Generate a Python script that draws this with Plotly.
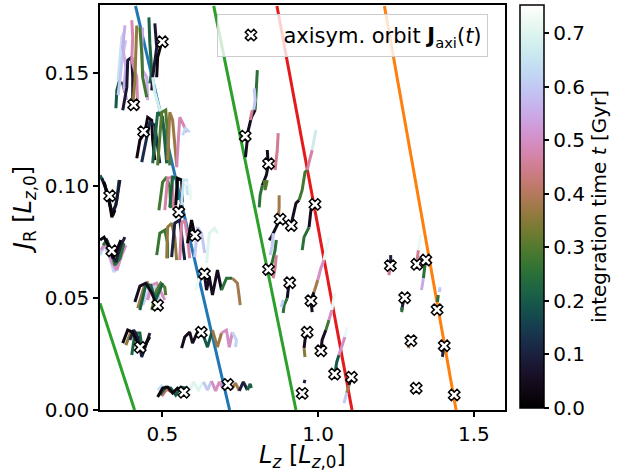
import numpy as np
import plotly.graph_objects as go

# ---------------- data ----------------
T_MAX = 0.753  # colour-bar upper limit [Gyr]

# axisymmetric orbit actions (markers)
marker_lz = [0.500, 0.408, 0.440, 0.331, 0.553, 0.605, 0.338, 0.635, 0.485, 0.625,
             0.429, 0.569, 0.710, 0.766, 0.841, 0.878, 0.914, 0.990, 0.841, 0.909,
             0.977, 0.965, 1.009, 0.949, 1.053, 1.107, 1.232, 1.317, 1.346, 1.278,
             1.382, 1.298, 1.405, 1.315, 1.437]
marker_jr = [0.164, 0.136, 0.124, 0.0954, 0.0882, 0.0778, 0.0709, 0.0606, 0.0467, 0.0346,
             0.0279, 0.0079, 0.0114, 0.122, 0.1097, 0.085, 0.0822, 0.0916, 0.0626, 0.0567,
             0.0487, 0.0346, 0.0264, 0.0074, 0.016, 0.0146, 0.0643, 0.0649, 0.0668, 0.050,
             0.0447, 0.0309, 0.0286, 0.0097, 0.0067]

# resonance lines (Lz endpoints, JR endpoints)
res_lz = [[0.414, 0.716], [0.300, 0.411], [0.665, 0.929], [0.868, 1.109], [1.213, 1.443]]
res_jr = [[0.18, 0.0], [0.0476, 0.0], [0.18, 0.0], [0.18, 0.0], [0.18, 0.0]]
res_colors = ["#1f77b4", "#2ca02c", "#2ca02c", "#e41a1c", "#ff7f0e"]

# orbit pieces: (time [Gyr], Lz list, JR list)
cluster_a = [
    (0.20, [0.351, 0.354, 0.361, 0.373, 0.380], [0.1344, 0.1424, 0.1460, 0.1455, 0.1415]),
    (0.65, [0.358, 0.364, 0.370, 0.380], [0.1469, 0.1580, 0.1660, 0.1691]),
    (0.60, [0.383, 0.370, 0.364, 0.358], [0.1647, 0.1558, 0.1469, 0.1402]),
    (0.55, [0.380, 0.373, 0.383, 0.377, 0.386], [0.1713, 0.1615, 0.1526, 0.1437, 0.1380]),
    (0.08, [0.373, 0.386, 0.389, 0.402, 0.405, 0.405], [0.1335, 0.1437, 0.1558, 0.1571, 0.1482, 0.1366]),
    (0.48, [0.402, 0.405, 0.402, 0.418, 0.421], [0.1736, 0.1660, 0.1558, 0.1482, 0.1335]),
    (0.36, [0.418, 0.415, 0.412, 0.405], [0.1713, 0.1558, 0.1469, 0.1348]),
    (0.55, [0.437, 0.434, 0.437, 0.450, 0.453], [0.1704, 0.1615, 0.1513, 0.1482, 0.1380]),
    (0.28, [0.428, 0.434, 0.437, 0.450], [0.1704, 0.1589, 0.1482, 0.1393]),
    (0.22, [0.457, 0.460, 0.466, 0.460], [0.1749, 0.1633, 0.1513, 0.1455]),
    (0.08, [0.476, 0.482, 0.469, 0.466], [0.1722, 0.1615, 0.1482, 0.1424]),
    (0.02, [0.492, 0.498, 0.485, 0.482], [0.1660, 0.1638, 0.1571, 0.1482]),
    (0.68, [0.469, 0.476, 0.492, 0.501], [0.1482, 0.1415, 0.1335, 0.1335]),
    (0.75, [0.514, 0.508, 0.501], [0.1589, 0.1482, 0.1380]),
]
cluster_b = [
    (0.03, [0.418, 0.428, 0.444, 0.453, 0.466, 0.469, 0.476], [0.1121, 0.1202, 0.1237, 0.1304, 0.1291, 0.1202, 0.1113]),
    (0.12, [0.434, 0.447, 0.460, 0.476, 0.485, 0.492], [0.1104, 0.1202, 0.1282, 0.1269, 0.1158, 0.1099]),
    (0.22, [0.469, 0.485, 0.501, 0.508, 0.514], [0.1099, 0.1326, 0.1304, 0.1202, 0.1099]),
    (0.30, [0.485, 0.492, 0.498, 0.511, 0.517, 0.524], [0.1090, 0.1202, 0.1326, 0.1336, 0.1202, 0.1090]),
    (0.37, [0.517, 0.524, 0.533, 0.540, 0.546], [0.1113, 0.1326, 0.1291, 0.1188, 0.1090]),
    (0.48, [0.546, 0.556, 0.572, 0.578], [0.1081, 0.1304, 0.1259, 0.1237]),
    (0.63, [0.565, 0.575, 0.588], [0.1224, 0.1255, 0.1237]),
]
cluster_c = [
    (0.20, [0.300, 0.316, 0.332, 0.342, 0.354, 0.361], [0.1046, 0.1001, 0.0912, 0.0868, 0.0935, 0.1024]),
    (0.08, [0.306, 0.326, 0.338, 0.351, 0.364], [0.1032, 0.0957, 0.0877, 0.0912, 0.1024]),
    (0.02, [0.313, 0.329, 0.338, 0.348], [0.1015, 0.0935, 0.0859, 0.0890]),
]
cluster_d = [
    (0.28, [0.489, 0.501, 0.514, 0.524, 0.527], [0.0890, 0.1015, 0.1037, 0.0992, 0.0899]),
    (0.47, [0.508, 0.517, 0.530, 0.533, 0.536], [0.0890, 0.1032, 0.1037, 0.0992, 0.0890]),
    (0.22, [0.524, 0.533, 0.546, 0.549], [0.0903, 0.1037, 0.1032, 0.0935]),
    (0.02, [0.543, 0.549, 0.562, 0.565, 0.552], [0.0912, 0.1032, 0.1024, 0.0935, 0.0881]),
    (0.65, [0.562, 0.568, 0.578, 0.581], [0.0912, 0.1024, 0.1024, 0.0957]),
    (0.72, [0.572, 0.588, 0.591], [0.1015, 0.1001, 0.0935]),
]
cluster_e = [
    (0.27, [0.482, 0.492, 0.508, 0.517, 0.517], [0.0690, 0.0788, 0.0801, 0.0743, 0.0676]),
    (0.36, [0.514, 0.517, 0.530, 0.540, 0.546], [0.0676, 0.0814, 0.0832, 0.0770, 0.0668]),
    (0.10, [0.530, 0.540, 0.556, 0.565, 0.572], [0.0681, 0.0832, 0.0846, 0.0743, 0.0668]),
    (0.47, [0.556, 0.562, 0.572, 0.581, 0.588], [0.0668, 0.0832, 0.0846, 0.0770, 0.0676]),
    (0.02, [0.581, 0.594, 0.604], [0.0743, 0.0846, 0.0779]),
    (0.60, [0.604, 0.613, 0.626, 0.636], [0.0681, 0.0814, 0.0788, 0.0699]),
    (0.70, [0.642, 0.651, 0.667, 0.677], [0.0654, 0.0788, 0.0810, 0.0788]),
]
cluster_f = [
    (0.62, [0.300, 0.313, 0.332, 0.345, 0.361], [0.0690, 0.0734, 0.0676, 0.0614, 0.0659]),
    (0.50, [0.303, 0.319, 0.338, 0.354, 0.370, 0.383], [0.0712, 0.0748, 0.0659, 0.0623, 0.0690, 0.0734]),
    (0.25, [0.310, 0.322, 0.335, 0.348, 0.364, 0.377], [0.0734, 0.0757, 0.0712, 0.0645, 0.0676, 0.0743]),
    (0.10, [0.319, 0.335, 0.351, 0.367, 0.380], [0.0765, 0.0703, 0.0659, 0.0734, 0.0770]),
    (0.02, [0.300, 0.313, 0.326, 0.342, 0.354, 0.367], [0.0757, 0.0770, 0.0734, 0.0676, 0.0712, 0.0757]),
]
cluster_g = [
    (0.72, [0.607, 0.616, 0.626], [0.0534, 0.0579, 0.0601]),
    (0.05, [0.635, 0.642, 0.651, 0.661, 0.677, 0.690], [0.0605, 0.0534, 0.0592, 0.0512, 0.0623, 0.0534]),
    (0.25, [0.690, 0.706, 0.725], [0.0534, 0.0587, 0.0587]),
    (0.38, [0.725, 0.741, 0.747, 0.750], [0.0587, 0.0565, 0.0503, 0.0467]),
]
cluster_h = [
    (0.62, [0.437, 0.457, 0.476, 0.492], [0.0467, 0.0534, 0.0547, 0.0490]),
    (0.50, [0.453, 0.466, 0.482, 0.495, 0.508], [0.0490, 0.0556, 0.0565, 0.0525, 0.0490]),
    (0.37, [0.421, 0.441, 0.453, 0.473, 0.485], [0.0454, 0.0547, 0.0565, 0.0512, 0.0463]),
    (0.30, [0.466, 0.482, 0.495, 0.508, 0.511], [0.0445, 0.0534, 0.0565, 0.0547, 0.0512]),
    (0.22, [0.428, 0.447, 0.463, 0.479, 0.492, 0.501], [0.0445, 0.0556, 0.0556, 0.0490, 0.0534, 0.0565]),
    (0.05, [0.412, 0.428, 0.447, 0.466, 0.482], [0.0481, 0.0552, 0.0565, 0.0521, 0.0467]),
]
cluster_i = [
    (0.36, [0.383, 0.399, 0.415, 0.428, 0.444], [0.0289, 0.0347, 0.0343, 0.0276, 0.0267]),
    (0.22, [0.402, 0.412, 0.428, 0.437, 0.453], [0.0245, 0.0343, 0.0343, 0.0254, 0.0312]),
    (0.10, [0.396, 0.408, 0.421, 0.434, 0.447, 0.460], [0.0312, 0.0356, 0.0325, 0.0236, 0.0289, 0.0343]),
    (0.03, [0.373, 0.389, 0.405, 0.421, 0.434, 0.450, 0.460], [0.0298, 0.0356, 0.0347, 0.0298, 0.0267, 0.0303, 0.0325]),
]
cluster_j = [
    (0.05, [0.562, 0.572, 0.588, 0.597, 0.613, 0.629], [0.0276, 0.0325, 0.0347, 0.0298, 0.0347, 0.0343]),
    (0.20, [0.629, 0.645, 0.661], [0.0343, 0.0280, 0.0356]),
    (0.37, [0.661, 0.677, 0.690], [0.0356, 0.0280, 0.0343]),
    (0.50, [0.690, 0.706, 0.715, 0.725], [0.0343, 0.0356, 0.0280, 0.0347]),
    (0.62, [0.725, 0.738, 0.735], [0.0347, 0.0312, 0.0280]),
]
cluster_k = [
    (0.65, [0.485, 0.498, 0.514], [0.0089, 0.0107, 0.0089]),
    (0.40, [0.498, 0.514, 0.530], [0.0062, 0.0093, 0.0080]),
    (0.20, [0.492, 0.511, 0.527, 0.543, 0.559, 0.575], [0.0067, 0.0102, 0.0098, 0.0067, 0.0102, 0.0098]),
    (0.03, [0.485, 0.501, 0.517, 0.533, 0.549, 0.562, 0.572], [0.0058, 0.0098, 0.0102, 0.0076, 0.0098, 0.0089, 0.0080]),
]
cluster_l = [
    (0.70, [0.588, 0.600, 0.616, 0.632], [0.0085, 0.0125, 0.0089, 0.0125]),
    (0.60, [0.632, 0.645, 0.658], [0.0125, 0.0089, 0.0129]),
    (0.50, [0.658, 0.671, 0.683, 0.696], [0.0129, 0.0085, 0.0125, 0.0093]),
    (0.02, [0.696, 0.709, 0.722], [0.0093, 0.0116, 0.0093]),
    (0.38, [0.722, 0.735, 0.747], [0.0093, 0.0120, 0.0085]),
    (0.10, [0.747, 0.760, 0.773], [0.0085, 0.0125, 0.0089]),
    (0.22, [0.773, 0.782, 0.786], [0.0089, 0.0116, 0.0098]),
]
cluster_mid = [
    (0.25, [0.805, 0.802, 0.798], [0.1514, 0.1424, 0.1336]),
    (0.60, [0.795, 0.798, 0.792], [0.1433, 0.1380, 0.1327]),
    (0.05, [0.798, 0.786, 0.776, 0.770, 0.767], [0.1336, 0.1304, 0.1247, 0.1180, 0.1126]),
    (0.45, [0.789, 0.782], [0.1336, 0.1291]),
    (0.45, [0.872, 0.869, 0.862], [0.1233, 0.1158, 0.1069]),
    (0.05, [0.837, 0.840, 0.834, 0.821], [0.1158, 0.1090, 0.1046, 0.1001]),
    (0.25, [0.821, 0.814, 0.811], [0.1001, 0.0957, 0.0903]),
    (0.30, [0.827, 0.830, 0.837], [0.1024, 0.0980, 0.1024]),
    (0.38, [0.875, 0.875, 0.872], [0.0957, 0.0903, 0.0846]),
    (0.05, [0.878, 0.866, 0.850, 0.843], [0.0850, 0.0814, 0.0770, 0.0757]),
    (0.60, [0.856, 0.853, 0.846], [0.0788, 0.0734, 0.0690]),
    (0.25, [0.866, 0.862, 0.853, 0.843], [0.0757, 0.0712, 0.0659, 0.0623]),
    (0.45, [0.866, 0.862, 0.856], [0.0690, 0.0632, 0.0587]),
    (0.05, [0.913, 0.923, 0.929, 0.939], [0.0823, 0.0877, 0.0921, 0.0935]),
    (0.28, [0.939, 0.949, 0.958, 0.965], [0.0935, 0.0980, 0.1059, 0.1069]),
    (0.47, [0.965, 0.974, 0.981], [0.1069, 0.1121, 0.1158]),
    (0.67, [0.981, 0.987, 0.993], [0.1158, 0.1202, 0.1247]),
    (0.05, [0.993, 0.977, 0.971], [0.0917, 0.0890, 0.0814]),
    (0.25, [0.971, 0.955, 0.949], [0.0814, 0.0770, 0.0712]),
    (0.05, [0.907, 0.904, 0.901], [0.0570, 0.0534, 0.0498]),
    (0.25, [0.901, 0.891, 0.888], [0.0498, 0.0467, 0.0432]),
    (0.60, [0.888, 0.882], [0.0490, 0.0458]),
    (0.05, [0.981, 0.977, 0.987], [0.0436, 0.0490, 0.0525]),
    (0.38, [0.987, 0.993, 0.999], [0.0525, 0.0556, 0.0579]),
    (0.50, [0.999, 1.009, 1.019], [0.0579, 0.0632, 0.0668]),
    (0.72, [1.019, 1.028, 1.035], [0.0668, 0.0721, 0.0770]),
    (0.05, [0.965, 0.958, 0.955], [0.0347, 0.0312, 0.0276]),
    (0.35, [0.955, 0.958], [0.0276, 0.0236]),
    (0.05, [1.009, 1.013, 1.025], [0.0263, 0.0312, 0.0356]),
    (0.28, [1.025, 1.035], [0.0356, 0.0401]),
    (0.50, [1.035, 1.044], [0.0401, 0.0445]),
    (0.72, [1.044, 1.054], [0.0445, 0.0521]),
    (0.20, [1.054, 1.060, 1.067], [0.0160, 0.0214, 0.0245]),
    (0.50, [1.067, 1.080, 1.086], [0.0245, 0.0298, 0.0325]),
    (0.72, [1.086, 1.092], [0.0325, 0.0369]),
    (0.05, [1.108, 1.099], [0.0147, 0.0111]),
    (0.38, [1.099, 1.092], [0.0111, 0.0076]),
    (0.60, [1.092, 1.083], [0.0076, 0.0031]),
    (0.10, [0.955, 0.958], [0.0120, 0.0134]),
]
cluster_right = [
    (0.10, [1.233, 1.233], [0.0690, 0.0641]),
    (0.45, [1.233, 1.227], [0.0641, 0.0601]),
    (0.45, [1.322, 1.319, 1.316], [0.0712, 0.0676, 0.0650]),
    (0.72, [1.329, 1.326, 1.322], [0.0779, 0.0743, 0.0712]),
    (0.25, [1.345, 1.342, 1.338], [0.0668, 0.0623, 0.0587]),
    (0.55, [1.338, 1.335, 1.332], [0.0587, 0.0556, 0.0534]),
    (0.10, [1.275, 1.268], [0.0490, 0.0445]),
    (0.25, [1.271, 1.268], [0.0458, 0.0436]),
    (0.25, [1.383, 1.386], [0.0481, 0.0512]),
    (0.60, [1.389, 1.392], [0.0525, 0.0547]),
    (0.38, [1.294, 1.290], [0.0298, 0.0276]),
    (0.10, [1.402, 1.399], [0.0267, 0.0236]),
    (0.70, [1.399, 1.396], [0.0236, 0.0223]),
]

all_clusters = [cluster_a, cluster_b, cluster_c, cluster_d, cluster_e, cluster_f,
                cluster_g, cluster_h, cluster_i, cluster_j, cluster_k, cluster_l,
                cluster_mid, cluster_right]

cbar_ticks = [0.0, 0.1, 0.2, 0.3, 0.4, 0.5, 0.6, 0.7]


# ---------------- colour map (matplotlib "cubehelix") ----------------
def cubehelix(x, gamma=1.0, s=0.5, r=-1.5, h=1.0):
    x = np.asarray(x, dtype=float)
    xg = x ** gamma
    a = h * xg * (1 - xg) / 2
    phi = 2 * np.pi * (s / 3 + r * x)
    R = xg + a * (-0.14861 * np.cos(phi) + 1.78277 * np.sin(phi))
    G = xg + a * (-0.29227 * np.cos(phi) - 0.90649 * np.sin(phi))
    B = xg + a * (1.97294 * np.cos(phi))
    return np.clip(np.stack([R, G, B], axis=-1), 0, 1)


def rgb_str(c):
    return "rgb(%d,%d,%d)" % tuple(int(round(v * 255)) for v in c)


n_stops = 64
stops = np.linspace(0, 1, n_stops)
colorscale = [[float(s), rgb_str(cubehelix(s))] for s in stops]

fig = go.Figure()

# resonance lines
for lz, jr, col in zip(res_lz, res_jr, res_colors):
    fig.add_trace(go.Scatter(x=lz, y=jr, mode="lines", line=dict(color=col, width=3),
                             showlegend=False, hoverinfo="skip"))

# orbit pieces coloured by integration time
for cl in all_clusters:
    for t, lz, jr in cl:
        col = rgb_str(cubehelix(min(t / T_MAX, 1.0)))
        fig.add_trace(go.Scatter(x=lz, y=jr, mode="lines",
                                 line=dict(color=col, width=3),
                                 showlegend=False, hoverinfo="skip"))

# axisymmetric orbit markers
fig.add_trace(go.Scatter(
    x=marker_lz, y=marker_jr, mode="markers",
    marker=dict(symbol="x", size=10, color="white", line=dict(color="black", width=1.5)),
    name="axisym. orbit <b>J</b><sub>axi</sub>(<i>t</i>)"))

# colour bar carrier
fig.add_trace(go.Scatter(
    x=[None], y=[None], mode="markers", showlegend=False, hoverinfo="skip",
    marker=dict(color=[0.0], colorscale=colorscale, cmin=0, cmax=T_MAX, showscale=True,
                colorbar=dict(x=1.037, xanchor="left", y=1, yanchor="top", xpad=0, ypad=0,
                              len=403, lenmode="pixels", thickness=24, thicknessmode="pixels",
                              outlinecolor="black", outlinewidth=1.5,
                              ticks="outside", ticklen=5, tickwidth=1.5, tickcolor="black",
                              tickvals=cbar_ticks, ticktext=["%.1f" % v for v in cbar_ticks],
                              tickfont=dict(size=20),
                              title=dict(text="integration time <i>t</i> [Gyr]", side="right",
                                         font=dict(size=20))))))

fig.update_layout(
    width=633, height=472,
    margin=dict(l=100, r=128, t=5, b=62, autoexpand=False),
    plot_bgcolor="white", paper_bgcolor="white",
    font=dict(family="DejaVu Sans", size=20, color="black"),
    legend=dict(x=0.29, y=0.978, xanchor="left", yanchor="top",
                bgcolor="rgba(255,255,255,0.8)", bordercolor="#cccccc", borderwidth=1,
                font=dict(size=21), itemwidth=55),
)
fig.update_xaxes(range=[0.3, 1.6], tickvals=[0.5, 1.0, 1.5], ticktext=["0.5", "1.0", "1.5"],
                 ticks="outside", ticklen=5, tickwidth=1.5, tickcolor="black",
                 showline=True, mirror=True, linecolor="black", linewidth=1.5,
                 showgrid=False, zeroline=False,
                 title=dict(text="<i>L<sub>z</sub></i> [<i>L</i><sub><i>z</i>,0</sub>]",
                            standoff=8))
fig.update_yaxes(range=[0.0, 0.1804], tickvals=[0.0, 0.05, 0.10, 0.15],
                 ticktext=["0.00", "0.05", "0.10", "0.15"],
                 ticks="outside", ticklen=5, tickwidth=1.5, tickcolor="black",
                 showline=True, mirror=True, linecolor="black", linewidth=1.5,
                 showgrid=False, zeroline=False,
                 title=dict(text="<i>J</i><sub>R</sub> [<i>L</i><sub><i>z</i>,0</sub>]",
                            standoff=6))

fig.write_html("out.html")
